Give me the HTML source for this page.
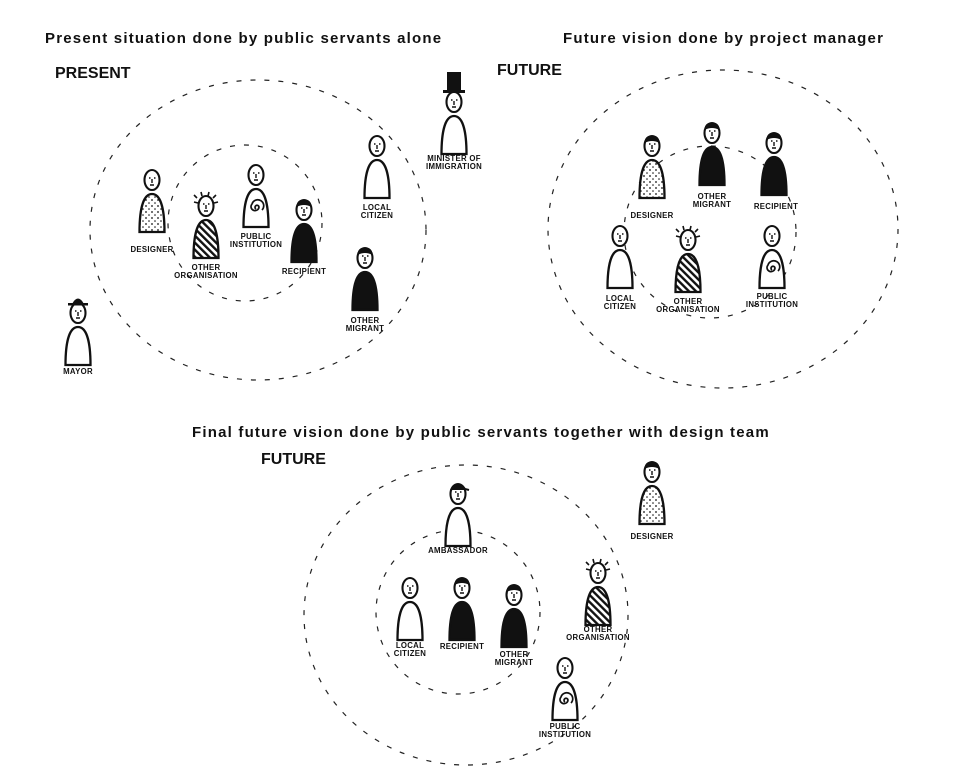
<!DOCTYPE html>
<html><head><meta charset="utf-8"><style>
html,body{margin:0;padding:0;background:#fff;}
svg{display:block;}
text{font-family:"Liberation Sans","DejaVu Sans",sans-serif;fill:#111;}
.t{font-size:15px;font-weight:bold;letter-spacing:1.2px;}
.h{font-size:16px;font-weight:bold;letter-spacing:0px;}
.l{font-size:7.8px;font-weight:bold;text-anchor:middle;letter-spacing:0.3px;}
.c{fill:none;stroke:#222;stroke-width:1.2;stroke-dasharray:5 9;}
</style></head><body>
<svg id="s" width="963" height="768" viewBox="0 0 963 768" xmlns="http://www.w3.org/2000/svg">
<defs>
<pattern id="dots" width="6" height="6" patternUnits="userSpaceOnUse"><rect width="6" height="6" fill="#fff"/><circle cx="2" cy="2" r="0.9" fill="#111"/><circle cx="5" cy="5" r="0.8" fill="#111"/></pattern>
<pattern id="stripes" width="5" height="5" patternUnits="userSpaceOnUse" patternTransform="rotate(-45)"><rect width="5" height="5" fill="#fff"/><rect width="2.4" height="5" fill="#111"/></pattern>
</defs>
<text class="t" x="45" y="43">Present situation done by public servants alone</text>
<text class="h" x="55" y="78">PRESENT</text>
<text class="t" x="563" y="43">Future vision done by project manager</text>
<text class="h" x="497" y="75">FUTURE</text>
<text class="t" x="192" y="437">Final future vision done by public servants together with design team</text>
<text class="h" x="261" y="464">FUTURE</text>

<ellipse class="c" cx="258" cy="230" rx="168" ry="150"/>
<ellipse class="c" cx="245" cy="223" rx="77" ry="78"/>
<ellipse class="c" cx="723" cy="229" rx="175" ry="159"/>
<ellipse class="c" cx="710" cy="232" rx="86" ry="86"/>
<ellipse class="c" cx="466" cy="615" rx="162" ry="150"/>
<ellipse class="c" cx="458" cy="612" rx="82" ry="82"/>
<g id="figs"></g>

<text class="l" x="152" y="252">DESIGNER</text>
<text class="l" x="206" y="270">OTHER</text><text class="l" x="206" y="278">ORGANISATION</text>
<text class="l" x="256" y="239">PUBLIC</text><text class="l" x="256" y="247">INSTITUTION</text>
<text class="l" x="304" y="274">RECIPIENT</text>
<text class="l" x="377" y="210">LOCAL</text><text class="l" x="377" y="218">CITIZEN</text>
<text class="l" x="365" y="323">OTHER</text><text class="l" x="365" y="331">MIGRANT</text>
<text class="l" x="454" y="161">MINISTER OF</text><text class="l" x="454" y="169">IMMIGRATION</text>
<text class="l" x="78" y="374">MAYOR</text>

<text class="l" x="652" y="218">DESIGNER</text>
<text class="l" x="712" y="199">OTHER</text><text class="l" x="712" y="207">MIGRANT</text>
<text class="l" x="776" y="209">RECIPIENT</text>
<text class="l" x="620" y="301">LOCAL</text><text class="l" x="620" y="309">CITIZEN</text>
<text class="l" x="688" y="304">OTHER</text><text class="l" x="688" y="312">ORGANISATION</text>
<text class="l" x="772" y="299">PUBLIC</text><text class="l" x="772" y="307">INSTITUTION</text>

<text class="l" x="458" y="553">AMBASSADOR</text>
<text class="l" x="652" y="539">DESIGNER</text>
<text class="l" x="410" y="648">LOCAL</text><text class="l" x="410" y="656">CITIZEN</text>
<text class="l" x="462" y="649">RECIPIENT</text>
<text class="l" x="514" y="657">OTHER</text><text class="l" x="514" y="665">MIGRANT</text>
<text class="l" x="598" y="632">OTHER</text><text class="l" x="598" y="640">ORGANISATION</text>
<text class="l" x="565" y="729">PUBLIC</text><text class="l" x="565" y="737">INSTITUTION</text>
</svg>
<script>
var F=[
[152,180,'d',''],[206,206,'s','spk'],[256,175,'p',''],[304,210,'b','hair'],[377,146,'w',''],[365,258,'b','hair'],[454,102,'w','top'],[78,313,'w','bowler'],
[652,146,'d','fr'],[712,133,'b','hair'],[774,143,'b','hair'],[620,236,'w',''],[688,240,'s','spk'],[772,236,'p',''],
[458,494,'w','cap'],[652,472,'d','fr'],[410,588,'w',''],[462,588,'b','hair'],[514,595,'b','hair'],[598,573,'s','spk'],[565,668,'p','']
];
var g='';
F.forEach(function(f){
 var x=f[0],y=f[1],t=f[2],h=f[3];
 var top=y+14,b=y+52;
 var fill=t=='b'?'#111':t=='d'?'url(#dots)':t=='s'?'url(#stripes)':'#fff';
 g+='<path d="M'+(x-12.5)+','+b+' C'+(x-12.5)+','+(b-22)+' '+(x-9)+','+top+' '+x+','+top+' C'+(x+9)+','+top+' '+(x+12.5)+','+(b-22)+' '+(x+12.5)+','+b+' Z" fill="'+fill+'" stroke="#111" stroke-width="2.3"/>';
 if(t=='p') g+='<path d="M'+x+','+(y+34)+' a2,2 0 1,1 3,-2 a4,4 0 1,1 -7,-3 a6,6 0 1,1 10,6" fill="none" stroke="#111" stroke-width="1.7"/>';
 g+='<ellipse cx="'+x+'" cy="'+y+'" rx="7.5" ry="10" fill="#fff" stroke="#111" stroke-width="2.1"/>';
 g+='<path d="M'+(x-3)+','+(y-2)+' h1.5 M'+(x+2)+','+(y-2)+' h1.5 M'+(x)+','+(y-1)+' v4 M'+(x-2)+','+(y+5)+' h4" stroke="#111" stroke-width="1.4" fill="none"/>';
 if(h=='hair'||h=='fr') g+='<path d="M'+(x-7.5)+','+(y-3)+' Q'+(x-7.5)+','+(y-10.5)+' '+x+','+(y-10.5)+' Q'+(x+7.5)+','+(y-10.5)+' '+(x+7.5)+','+(y-3)+' Q'+x+','+(y-7)+' '+(x-7.5)+','+(y-3)+'Z" fill="#111"/>';
 if(h=='spk') g+='<path d="M'+(x-9)+','+(y-8)+' l-3,-3 M'+(x-4)+','+(y-10)+' l-1,-4 M'+(x+2)+','+(y-10)+' l1,-4 M'+(x+7)+','+(y-8)+' l3,-3 M'+(x+8)+','+(y-3)+' l4,-1 M'+(x-8)+','+(y-3)+' l-4,-1" stroke="#111" stroke-width="1.6"/>';
 if(h=='top') g+='<rect x="'+(x-7)+'" y="'+(y-30)+'" width="14" height="20" fill="#111"/><rect x="'+(x-11)+'" y="'+(y-12)+'" width="22" height="3" fill="#111"/>';
 if(h=='bowler') g+='<path d="M'+(x-6)+','+(y-9)+' Q'+x+','+(y-20)+' '+(x+6)+','+(y-9)+' Z" fill="#111"/><rect x="'+(x-10)+'" y="'+(y-10)+'" width="20" height="2.5" fill="#111"/>';
 if(h=='cap') g+='<path d="M'+(x-7)+','+(y-4)+' Q'+x+','+(y-14)+' '+(x+7)+','+(y-5)+' L'+(x+11)+','+(y-4)+'" fill="#111" stroke="#111" stroke-width="2"/>';
});
document.getElementById('figs').innerHTML=g;
</script>
</body></html>
